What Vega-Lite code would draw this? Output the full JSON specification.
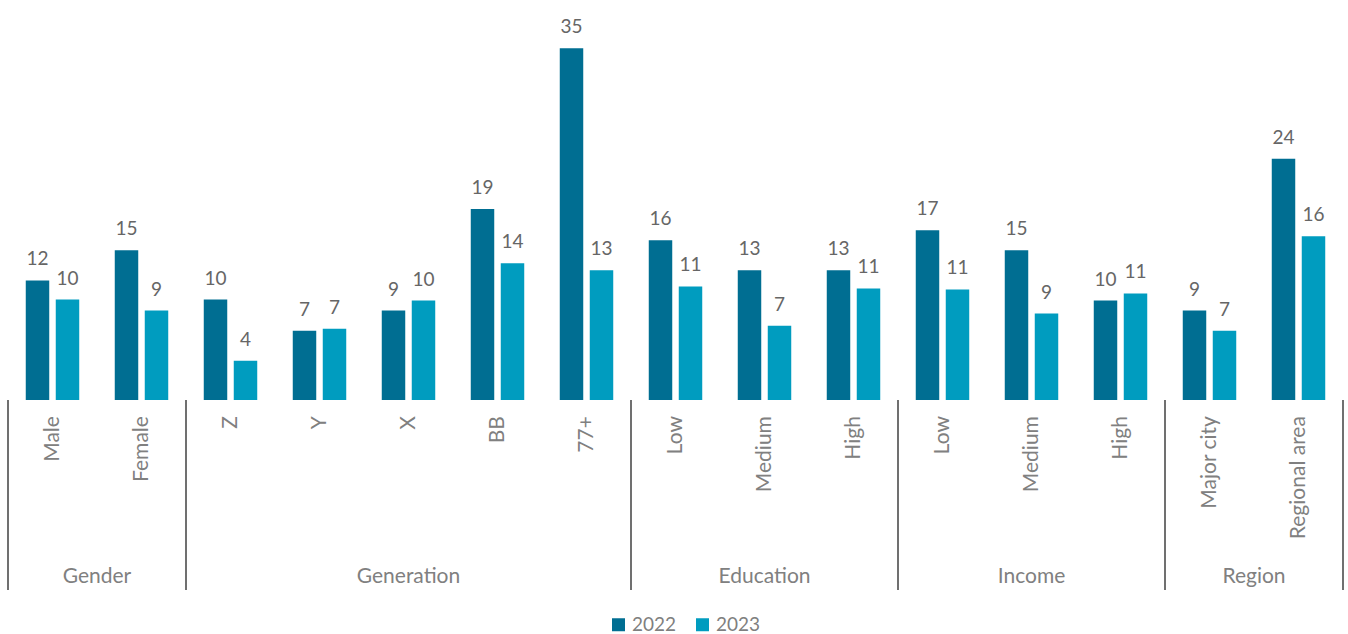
{
  "$schema": "https://vega.github.io/schema/vega-lite/v6.json",
  "width": 1335,
  "height": 585,
  "autosize": {"type": "none"},
  "padding": {"left": 8, "top": 5, "right": 5, "bottom": 44},
  "config": {
    "view": {"stroke": null},
    "font": "Lato",
    "text": {"font": "Lato"}
  },
  "datasets": {
    "main": [
      {"group": "Gender", "item": "Gender|Male", "label": "Male", "year": "2022", "value": 11.9},
      {"group": "Gender", "item": "Gender|Male", "label": "Male", "year": "2023", "value": 10.0},
      {"group": "Gender", "item": "Gender|Female", "label": "Female", "year": "2022", "value": 14.9},
      {"group": "Gender", "item": "Gender|Female", "label": "Female", "year": "2023", "value": 8.9},
      {"group": "Generation", "item": "Generation|Z", "label": "Z", "year": "2022", "value": 10.0},
      {"group": "Generation", "item": "Generation|Z", "label": "Z", "year": "2023", "value": 3.9},
      {"group": "Generation", "item": "Generation|Y", "label": "Y", "year": "2022", "value": 6.9},
      {"group": "Generation", "item": "Generation|Y", "label": "Y", "year": "2023", "value": 7.1},
      {"group": "Generation", "item": "Generation|X", "label": "X", "year": "2022", "value": 8.9},
      {"group": "Generation", "item": "Generation|X", "label": "X", "year": "2023", "value": 9.9},
      {"group": "Generation", "item": "Generation|BB", "label": "BB", "year": "2022", "value": 19.0},
      {"group": "Generation", "item": "Generation|BB", "label": "BB", "year": "2023", "value": 13.6},
      {"group": "Generation", "item": "Generation|77+", "label": "77+", "year": "2022", "value": 35.0},
      {"group": "Generation", "item": "Generation|77+", "label": "77+", "year": "2023", "value": 12.9},
      {"group": "Education", "item": "Education|Low", "label": "Low", "year": "2022", "value": 15.9},
      {"group": "Education", "item": "Education|Low", "label": "Low", "year": "2023", "value": 11.3},
      {"group": "Education", "item": "Education|Medium", "label": "Medium", "year": "2022", "value": 12.9},
      {"group": "Education", "item": "Education|Medium", "label": "Medium", "year": "2023", "value": 7.4},
      {"group": "Education", "item": "Education|High", "label": "High", "year": "2022", "value": 12.9},
      {"group": "Education", "item": "Education|High", "label": "High", "year": "2023", "value": 11.1},
      {"group": "Income", "item": "Income|Low", "label": "Low", "year": "2022", "value": 16.9},
      {"group": "Income", "item": "Income|Low", "label": "Low", "year": "2023", "value": 11.0},
      {"group": "Income", "item": "Income|Medium", "label": "Medium", "year": "2022", "value": 14.9},
      {"group": "Income", "item": "Income|Medium", "label": "Medium", "year": "2023", "value": 8.6},
      {"group": "Income", "item": "Income|High", "label": "High", "year": "2022", "value": 9.9},
      {"group": "Income", "item": "Income|High", "label": "High", "year": "2023", "value": 10.6},
      {"group": "Region", "item": "Region|Major city", "label": "Major city", "year": "2022", "value": 8.9},
      {"group": "Region", "item": "Region|Major city", "label": "Major city", "year": "2023", "value": 6.9},
      {"group": "Region", "item": "Region|Regional area", "label": "Regional area", "year": "2022", "value": 24.0},
      {"group": "Region", "item": "Region|Regional area", "label": "Regional area", "year": "2023", "value": 16.3}
    ],
    "groups": [
      {"group": "Gender", "first": "Gender|Male", "center": "Gender|Male", "centerEdge": "end"},
      {"group": "Generation", "first": "Generation|Z", "center": "Generation|X", "centerEdge": "mid"},
      {"group": "Education", "first": "Education|Low", "center": "Education|Medium", "centerEdge": "mid"},
      {"group": "Income", "first": "Income|Low", "center": "Income|Medium", "centerEdge": "mid"},
      {"group": "Region", "first": "Region|Major city", "center": "Region|Major city", "centerEdge": "end", "last": "Region|Regional area"}
    ]
  },
  "data": {"name": "main"},
  "encoding": {
    "x": {
      "field": "item",
      "type": "nominal",
      "axis": null,
      "scale": {
        "domain": ["Gender|Male", "Gender|Female", "Generation|Z", "Generation|Y", "Generation|X", "Generation|BB", "Generation|77+", "Education|Low", "Education|Medium", "Education|High", "Income|Low", "Income|Medium", "Income|High", "Region|Major city", "Region|Regional area"],
        "paddingInner": 0,
        "paddingOuter": 0
      }
    }
  },
  "layer": [
    {
      "mark": {"type": "bar"},
      "encoding": {
        "xOffset": {"field": "year", "type": "nominal", "scale": {"paddingInner": 0.217, "paddingOuter": 0.592}},
        "y": {"field": "value", "type": "quantitative", "axis": null, "scale": {"domain": [-18.9, 39.3], "nice": false, "zero": false}},
        "color": {
          "field": "year",
          "type": "nominal",
          "title": null,
          "scale": {"domain": ["2022", "2023"], "range": ["#006E92", "#009CBF"]},
          "legend": {
            "orient": "none",
            "direction": "horizontal",
            "legendX": 601,
            "legendY": 610,
            "symbolType": "square",
            "symbolSize": 169,
            "symbolStrokeWidth": 0,
            "labelFontSize": 19,
            "labelFont": "Lato",
            "labelColor": "#7F7F7F",
            "columnPadding": 16,
            "labelOffset": 4
          }
        }
      }
    },
    {
      "mark": {"type": "text", "baseline": "bottom", "dy": -11, "fontSize": 19, "color": "#666666"},
      "encoding": {
        "xOffset": {"field": "year", "type": "nominal", "scale": {"paddingInner": 0.217, "paddingOuter": 0.592}},
        "y": {"field": "value", "type": "quantitative"},
        "text": {"field": "value", "type": "quantitative", "format": ".0f"}
      }
    },
    {
      "transform": [{"filter": "datum.year == '2022'"}],
      "mark": {"type": "text", "angle": 270, "align": "right", "baseline": "middle", "fontSize": 21, "color": "#808080", "dx": 1},
      "encoding": {
        "y": {"datum": -1.7},
        "text": {"field": "label"}
      }
    },
    {
      "data": {"values": [{}]},
      "mark": {"type": "rule", "color": "#595959", "strokeWidth": 1.5},
      "encoding": {"y": {"datum": 0}}
    },
    {
      "data": {"name": "groups"},
      "mark": {"type": "rule", "color": "#404040", "strokeWidth": 1.5},
      "encoding": {
        "x": {"field": "first", "type": "nominal", "bandPosition": 0},
        "y": {"datum": 0},
        "y2": {"datum": -18.9}
      }
    },
    {
      "data": {"name": "groups"},
      "transform": [{"filter": "isValid(datum.last)"}],
      "mark": {"type": "rule", "color": "#404040", "strokeWidth": 1.5},
      "encoding": {
        "x": {"field": "last", "type": "nominal", "bandPosition": 1},
        "y": {"datum": 0},
        "y2": {"datum": -18.9}
      }
    },
    {
      "data": {"name": "groups"},
      "transform": [{"filter": "datum.centerEdge == 'mid'"}],
      "mark": {"type": "text", "baseline": "middle", "fontSize": 21, "color": "#808080"},
      "encoding": {
        "x": {"field": "center", "type": "nominal", "bandPosition": 0.5},
        "y": {"datum": -17.6},
        "text": {"field": "group"}
      }
    },
    {
      "data": {"name": "groups"},
      "transform": [{"filter": "datum.centerEdge == 'end'"}],
      "mark": {"type": "text", "baseline": "middle", "fontSize": 21, "color": "#808080"},
      "encoding": {
        "x": {"field": "center", "type": "nominal", "bandPosition": 1},
        "y": {"datum": -17.6},
        "text": {"field": "group"}
      }
    }
  ]
}
